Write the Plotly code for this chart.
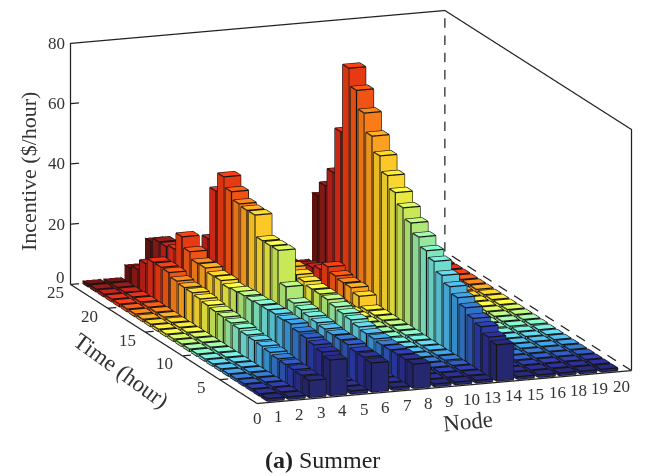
import plotly.graph_objects as go

hours = list(range(1, 25))
node_tick_labels = ["0","1","2","3","4","5","6","7","8","9","10","13","14","15","16","18","19","20"]
time_ticks = [5, 10, 15, 20, 25]
z_ticks = [0, 20, 40, 60, 80]

hour_colors = ["#25276f","#2a2d8f","#2b3aa6","#2f55b5","#3272c4","#3a96d8","#4ab0e0","#5cc8dc",
               "#6fdcd0","#7ee6bc","#96e8a0","#b0e878","#c8e858","#e8e840","#f8d830","#fcc828",
               "#fca020","#f87c18","#f05414","#e83a12","#d82c18","#b82018","#8c1a16","#641410"]

row0 = [.8,.8,.8,.8,.8,.8,.8,.8,.8,.8,.8,.8,.8,.8,.8,.8,.8,.9,.9,.9,.9,.9,.9,.9]
row1 = [.8,.8,.8,.8,.8,.8,.8,.8,.8,.8,.8,.8,.8,.8,.8,.8,.9,.9,.9,1.,1.,.9,.9,.9]
row2 = [5.6,5.7,5.9,6.0,6.2,6.7,7.1,7.3,7.5,8,8.2,8.5,8.7,9.1,9.6,10,10.1,10.6,11.8,11.9,11.9,9.8,6.2,5]
row3 = [11.8,12.8,13.5,14.1,14.5,15.5,15.2,15.5,15.3,15.3,14.9,15,14.7,14.3,15.1,15,16,15.9,18.1,21.4,15.7,14.8,14.8,13.2]
row4 = [.9,.9,.9,.9,.9,.9,.9,.9,.9,1.,1.,1.,1.,1.,1.,1.,1.,1.,1.,1.,1.,1.,1.,1.]
row5 = [9.6,9.9,10,10.7,10.7,10.7,11,11.4,11.8,12.4,13,16.8,27.2,27.1,27.1,34,33.9,34.4,36.8,40.1,33.7,16.2,10.5,8.5]
row6 = [.9,.9,.9,.9,.9,.9,.9,.9,.9,1.,1.,1.,1.,1.,1.,1.,1.,1.,1.,1.,1.,1.,1.,1.]
row7 = [8,7.9,7.9,7.8,7.7,8.1,8.2,8.8,9.5,9.9,10.5,11.3,11.5,11.5,12.3,13,13.9,13.9,14.8,16.7,12.7,9.6,6.5,4.5]
row8 = [.8,.8,.8,.8,.8,.8,.8,.8,.8,.9,.9,.9,.9,.9,.9,.9,1.,1.,1.,1.,1.,1.,1.,1.]
row9 = [.8,.8,.8,.8,.8,.8,.8,.8,.8,.9,.9,.9,.9,.9,.9,.9,1.,1.,1.,1.,1.,1.,1.,1.]
row10 = [.8,.8,.8,.8,.9,.9,.9,.9,.9,1.,1.,1.,1.,1.,1.,4,5.2,5.2,5.8,7.2,4.7,3.6,2.5,1.5]
row11 = [12,12.9,14.7,15.8,17.7,19.4,21.4,23.5,26.5,28.4,31.3,34.3,37.7,41.1,45.1,50,54.9,60.9,66.8,72.5,49.7,34.6,28.5,23.5]
row12 = [.8,.8,.8,.8,.8,.8,.8,.8,.8,.9,.9,.9,.9,.9,.9,.9,1.,1.,1.,1.,1.,1.,1.,1.]
row13 = [.8,.8,.8,.8,.8,.8,.8,.8,.8,.9,.9,.9,.9,.9,.9,.9,1.,1.,1.,1.,1.,1.,1.,1.]
row14 = [.8,.8,.8,.8,.8,.8,.8,.8,.8,.9,.9,.9,.9,.9,.9,.9,1.,1.,1.,1.,1.,1.,1.,1.]
row15 = [.8,.8,.8,.8,.8,.8,.8,.8,.8,.9,.9,.9,.9,.9,.9,.9,1.,1.,1.,1.,1.,1.,1.,1.]
row16 = [.8,.8,.8,.8,.8,.8,.8,.8,.8,.9,.9,.9,.9,.9,.9,.9,1.,1.,1.,1.,1.,1.,1.,1.]
rows = [row0,row1,row2,row3,row4,row5,row6,row7,row8,row9,row10,row11,row12,row13,row14,row15,row16]

XMAX, TMAX, ZMAX = 17.7, 25, 80
ROW_STEP, ROW_OFFSET, HALF = 0.985, 0.98, 0.4
HOUR_STEP, HOUR_OFFSET = 1.042, -0.37
LABEL_STEP = 1.013
PAD = 0.02

def shade(hex_color, k):
    r, g, b = [int(hex_color[i:i+2], 16) for i in (1, 3, 5)]
    f = lambda c: int(min(255, c * k))
    return f"rgb({f(r)},{f(g)},{f(b)})"

vx, vy, vz, ti, tj, tk, fc = [], [], [], [], [], [], []
ex, ey, ez = [], [], []
for p, row in enumerate(rows):
    xc = p * ROW_STEP + ROW_OFFSET
    for t, h, col in zip(hours, row, hour_colors):
        yc = t * HOUR_STEP + HOUR_OFFSET
        x0, x1, y0, y1 = xc - HALF, xc + HALF, yc - HALF, yc + HALF
        base = len(vx)
        for zz in (0, h):
            vx += [x0, x1, x1, x0]
            vy += [y0, y0, y1, y1]
            vz += [zz, zz, zz, zz]
        faces = [((4,5,6),(4,6,7),1.1), ((0,1,5),(0,5,4),1.0), ((0,3,7),(0,7,4),0.93),
                 ((1,2,6),(1,6,5),0.9), ((3,2,6),(3,6,7),0.9)]
        for a, b, k in faces:
            for tri in (a, b):
                ti.append(base + tri[0]); tj.append(base + tri[1]); tk.append(base + tri[2])
                fc.append(shade(col, k))
        for path in ([0,1,2,3,0], [4,5,6,7,4], [0,4], [1,5], [3,7]):
            ex += [vx[base+i] for i in path] + [None]
            ey += [vy[base+i] for i in path] + [None]
            ez += [vz[base+i] for i in path] + [None]

fig = go.Figure()
fig.add_trace(go.Mesh3d(x=vx, y=vy, z=vz, i=ti, j=tj, k=tk, facecolor=fc, flatshading=True,
                        lighting=dict(ambient=1, diffuse=0, specular=0, fresnel=0, roughness=1),
                        hoverinfo="skip", showscale=False))
fig.add_trace(go.Scatter3d(x=ex, y=ey, z=ez, mode="lines", line=dict(color="#141414", width=2.5),
                           hoverinfo="skip", showlegend=False))

# axis frame
fx = [0, XMAX, None, 0, 0, None, 0, 0, XMAX, XMAX, XMAX]
fy = [0, 0, None, 0, TMAX, None, TMAX, TMAX, TMAX, 0, 0]
fz = [0, 0, None, 0, 0, None, 0, ZMAX, ZMAX, ZMAX, 0]
fig.add_trace(go.Scatter3d(x=fx, y=fy, z=fz, mode="lines", line=dict(color="#222", width=2.5),
                           hoverinfo="skip", showlegend=False))
# dashed back edges: short solid pieces along the axis ranges
dx, dy, dz = [], [], []
Z_DASHES, T_DASHES = 14, 12
for n in range(Z_DASHES):
    dx += [XMAX, XMAX, None]; dy += [TMAX, TMAX, None]
    dz += [ZMAX * n / Z_DASHES, ZMAX * (n + 0.55) / Z_DASHES, None]
for n in range(T_DASHES):
    dx += [XMAX, XMAX, None]; dz += [0, 0, None]
    dy += [TMAX * n / T_DASHES, TMAX * (n + 0.55) / T_DASHES, None]
fig.add_trace(go.Scatter3d(x=dx, y=dy, z=dz, mode="lines", line=dict(color="#222", width=2.5),
                           hoverinfo="skip", showlegend=False))
# ticks
tx, ty, tz = [], [], []
for v in z_ticks[1:-1] + [0]:
    tx += [0, 0.4, None]; ty += [TMAX, TMAX, None]; tz += [v, v, None]
for v in time_ticks[:-1]:
    tx += [0, 0.4, None]; ty += [v, v, None]; tz += [0, 0, None]
fig.add_trace(go.Scatter3d(x=tx, y=ty, z=tz, mode="lines", line=dict(color="#222", width=2.5),
                           hoverinfo="skip", showlegend=False))

tick_font = dict(family="Liberation Serif", size=17, color="#333")
ann3d = []
for v in z_ticks:
    ann3d.append(dict(x=0, y=TMAX, z=v, text=str(v), showarrow=False, xanchor="right", xshift=-3,
                      yshift=7 if v == 0 else 0, font=tick_font))
for v in time_ticks:
    ann3d.append(dict(x=0, y=v, z=0, text=str(v), showarrow=False, xshift=-15 if v == 25 else -18, yshift=-8, font=tick_font))
for i, lab in enumerate(node_tick_labels):
    ann3d.append(dict(x=i*LABEL_STEP, y=0, z=0, text=lab, showarrow=False, yshift=-15, font=tick_font))

K = 2.70
PAGE = 8  # default page margin of the written html
def title(x, y, text, angle=0, size=21, color="#333"):
    return dict(xref="paper", yref="paper", x=(x-PAGE)/646, y=1-(y-PAGE)/476, text=text, textangle=angle, showarrow=False,
                xanchor="center", yanchor="middle", font=dict(family="Liberation Serif", size=size, color=color))
fig.update_layout(
    width=646, height=476, paper_bgcolor="white", margin=dict(l=0, r=0, t=0, b=0), showlegend=False,
    scene=dict(
        domain=dict(x=[48/646, 638/646], y=[1-398/476, 1]),
        xaxis=dict(visible=False, range=[-PAD, XMAX+PAD]),
        yaxis=dict(visible=False, range=[-PAD, TMAX+PAD]),
        zaxis=dict(visible=False, range=[-PAD, ZMAX+PAD]),
        aspectmode="manual", aspectratio=dict(x=0.745*K, y=1*K, z=0.462*K),
        camera=dict(projection=dict(type="orthographic"), up=dict(x=0, y=0, z=1),
                    center=dict(x=0, y=0, z=0),
                    eye=dict(x=-0.338*3, y=-0.911*3, z=0.2367*3)),
        annotations=ann3d,
    ),
    annotations=[
        title(28, 172, "Incentive ($/hour)", -90, 22),
        title(121, 370, "Time (hour)", 36, 23),
        title(468, 421, "Node", -6, 23),
        title(322, 460, "<b>(a)</b> Summer", 0, 24, "#222"),
    ],
)
fig.write_html("out.html")
